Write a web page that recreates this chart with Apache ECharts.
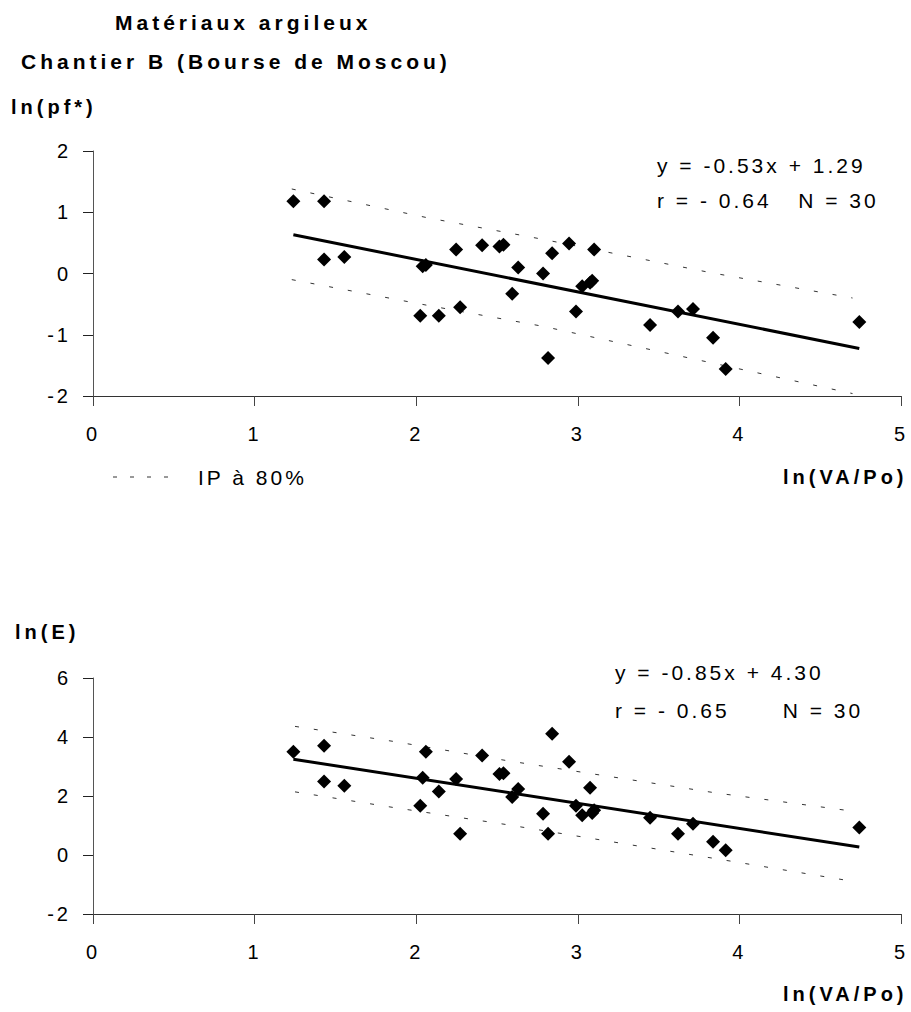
<!DOCTYPE html>
<html>
<head>
<meta charset="utf-8">
<script src="https://cdn.jsdelivr.net/npm/echarts@6/dist/echarts.min.js"></script>
<style>
  html, body { margin: 0; padding: 0; background: #fff; }
  #chart { width: 911px; height: 1012px; }
  /* wide, typewriter-like spacing of the labels */
  #chart svg text { letter-spacing: 3px; white-space: pre; }
  #chart svg text[style*="bold"] { letter-spacing: 4px; }
</style>
</head>
<body>
<div id="chart"></div>
<script>
// ln(VA/Po) of the 30 samples (shared by both panels)
const lnVA = [1.24, 1.43, 1.43, 1.555, 2.025, 2.04, 2.06, 2.14, 2.247, 2.272,
              2.408, 2.515, 2.54, 2.594, 2.631, 2.785, 2.816, 2.841, 2.946, 2.989,
              3.027, 3.076, 3.089, 3.101, 3.447, 3.62, 3.713, 3.837, 3.915, 4.742];
// ln(pf*)
const lnPf = [1.18, 1.18, 0.23, 0.27, -0.69, 0.12, 0.14, -0.69, 0.39, -0.55,
              0.46, 0.44, 0.47, -0.33, 0.10, 0.00, -1.38, 0.33, 0.49, -0.62,
              -0.21, -0.15, -0.12, 0.39, -0.84, -0.62, -0.58, -1.05, -1.56, -0.79];
// ln(E)
const lnE = [3.50, 3.70, 2.49, 2.35, 1.67, 2.62, 3.50, 2.15, 2.58, 0.72,
             3.37, 2.75, 2.77, 1.97, 2.24, 1.40, 0.72, 4.11, 3.16, 1.67,
             1.35, 2.28, 1.42, 1.52, 1.26, 0.72, 1.06, 0.45, 0.16, 0.93];

// fitted lines: [slope, intercept]
const fitPf = [-0.53, 1.29];
const fitE = [-0.85, 4.30];

// 80 % prediction interval bounds
const piPfX = [1.23, 2.07, 2.78, 3.83, 4.70];
const piPfUpper = [1.38, 0.91, 0.56, 0.01, -0.40];
const piPfLower = [-0.10, -0.52, -0.86, -1.46, -1.96];
const piEX = [1.25, 1.86, 2.56, 3.86, 4.71];
const piEUpper = [4.36, 3.85, 3.20, 2.10, 1.48];
const piELower = [2.14, 1.61, 1.03, -0.13, -0.90];

// axis ranges [min, max, step]
const xRange = [0, 5, 1];
const yPfRange = [-2, 2, 1];
const yERange = [-2, 6, 2];

const pairs = (xs, ys) => xs.map((x, i) => [x, ys[i]]);
const xMin = Math.min(...lnVA), xMax = Math.max(...lnVA);
const fitLine = (f) => [[xMin, f[0] * xMin + f[1]], [xMax, f[0] * xMax + f[1]]];

const REG = '"Liberation Sans", Arial, sans-serif';
const INK = '#000';

function xAxis(gridIndex) {
  return {
    type: 'value', gridIndex, min: xRange[0], max: xRange[1], interval: xRange[2],
    axisLine: { onZero: false, lineStyle: { color: '#333', width: 1 } },
    axisTick: { show: true, inside: false, length: 10, lineStyle: { color: '#444' } },
    axisLabel: { color: INK, fontSize: 20, fontFamily: REG, margin: 28 },
    splitLine: { show: false }
  };
}
function yAxis(gridIndex, r) {
  return {
    type: 'value', gridIndex, min: r[0], max: r[1], interval: r[2],
    axisLine: { show: true, onZero: false, lineStyle: { color: '#555', width: 1 } },
    axisTick: { show: true, inside: false, length: 10, lineStyle: { color: '#222' } },
    axisLabel: { color: INK, fontSize: 20, fontFamily: REG, margin: 22 },
    splitLine: { show: false }
  };
}
function panelSeries(idx, ys, fit, px, pu, pl) {
  const dash = { color: '#333', width: 1, type: [4, 15] };
  return [
    { type: 'line', name: 'IP à 80%', xAxisIndex: idx, yAxisIndex: idx, data: pairs(px, pu),
      symbol: 'none', lineStyle: dash, z: 2, silent: true },
    { type: 'line', name: 'IP à 80%', xAxisIndex: idx, yAxisIndex: idx, data: pairs(px, pl),
      symbol: 'none', lineStyle: dash, z: 2, silent: true },
    { type: 'line', name: 'fit', xAxisIndex: idx, yAxisIndex: idx, data: fitLine(fit),
      symbol: 'none', lineStyle: { color: '#000', width: 3 }, z: 3, silent: true },
    { type: 'scatter', name: 'data', xAxisIndex: idx, yAxisIndex: idx, data: pairs(lnVA, ys),
      symbol: 'diamond', symbolSize: 14, itemStyle: { color: '#000', opacity: 1 }, z: 4 }
  ];
}
function label(text, x, y, size, bold) {
  return {
    type: 'text', x, y, silent: true,
    style: { text, fill: INK, fontSize: size, fontWeight: bold ? 'bold' : 'normal',
             fontFamily: REG, align: 'left', verticalAlign: 'middle' }
  };
}

const chart = echarts.init(document.getElementById('chart'), null, { renderer: 'svg' });
chart.setOption({
  animation: false,
  backgroundColor: '#fff',
  grid: [
    { left: 93, top: 151, width: 808, height: 245 },
    { left: 93, top: 678, width: 808, height: 236 }
  ],
  xAxis: [xAxis(0), xAxis(1)],
  yAxis: [yAxis(0, yPfRange), yAxis(1, yERange)],
  series: [
    ...panelSeries(0, lnPf, fitPf, piPfX, piPfUpper, piPfLower),
    ...panelSeries(1, lnE, fitE, piEX, piEUpper, piELower)
  ],
  graphic: [
    label('Matériaux argileux', 115, 22, 21, true),
    label('Chantier B (Bourse de Moscou)', 21, 61, 21, true),
    label('ln(pf*)', 11, 107, 20, true),
    label('y = -0.53x + 1.29', 657, 165, 21, false),
    label('r = - 0.64   N = 30', 657, 200, 21, false),
    label('ln(VA/Po)', 783, 477, 20, true),
    { type: 'line', silent: true,
      shape: { x1: 113, y1: 477, x2: 172, y2: 477 },
      style: { stroke: '#333', lineWidth: 1, lineDash: [4, 13] } },
    label('IP à 80%', 198, 477, 21, false),
    label('ln(E)', 15, 632, 20, true),
    label('y = -0.85x + 4.30', 615, 672, 21, false),
    label('r = - 0.65      N = 30', 615, 710, 21, false),
    label('ln(VA/Po)', 783, 994, 20, true)
  ]
});
</script>
</body>
</html>
